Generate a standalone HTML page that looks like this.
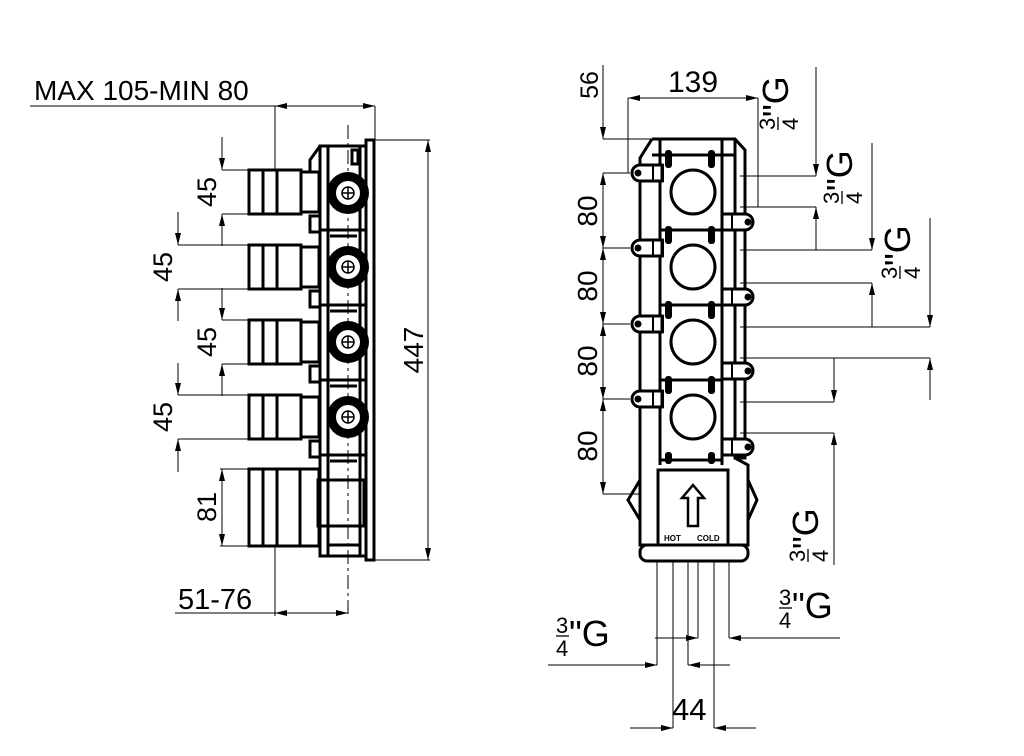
<!DOCTYPE html>
<html><head><meta charset="utf-8"><style>
html,body{margin:0;padding:0;background:#fff;}
svg{display:block;}
text{font-family:"Liberation Sans",sans-serif;fill:#000;}
</style></head><body>
<svg width="1024" height="756" viewBox="0 0 1024 756" xmlns="http://www.w3.org/2000/svg">
<defs>
<marker id="a" viewBox="0 0 12 6" refX="12" refY="3" markerWidth="12" markerHeight="6" markerUnits="userSpaceOnUse" orient="auto-start-reverse"><path d="M0,0 L12,3 L0,6 z" fill="#000"/></marker>
<g id="lc">
 <circle r="21" fill="#000"/><circle r="12" fill="#fff"/><circle r="6" fill="none" stroke="#000" stroke-width="1.5"/><line x1="-6" y1="0" x2="6" y2="0" stroke="#000" stroke-width="1.5"/><line x1="0" y1="-6" x2="0" y2="6" stroke="#000" stroke-width="1.5"/>
</g>
<g id="pipe" fill="none" stroke="#000" stroke-width="3">
 <rect x="249" y="0" width="52" height="44"/><line x1="263" y1="0" x2="263" y2="44"/><line x1="277" y1="0" x2="277" y2="44"/>
 <rect x="301" y="2" width="18" height="40"/>
</g>
<g id="ltab"><path d="M640,-8 H662 V8 H640 A8,8 0 0 1 640,-8 z" fill="#fff" stroke="#000" stroke-width="3"/><circle cx="638" cy="0" r="3.5" fill="#000"/><rect x="653" y="-8" width="10" height="16" fill="none" stroke="#000" stroke-width="2"/></g>
<g id="rtab"><path d="M722,-8 H745 A8,8 0 0 1 745,8 H722 z" fill="#fff" stroke="#000" stroke-width="3"/><circle cx="748" cy="0" r="3.5" fill="#000"/><rect x="722" y="-8" width="10" height="16" fill="none" stroke="#000" stroke-width="2"/></g>
<g id="frac"><text x="0" y="-3" font-size="22">3</text><line x1="0" y1="0" x2="13" y2="0" stroke="#000" stroke-width="1.3"/><text x="0" y="20" font-size="22">4</text><text x="13" y="10" font-size="36">"G</text></g>
</defs>

<g stroke="#000" stroke-width="1" fill="none">
 <line x1="30" y1="106" x2="275" y2="106"/>
 <line x1="275" y1="106" x2="375" y2="106" marker-start="url(#a)" marker-end="url(#a)"/>
 <line x1="275" y1="106" x2="275" y2="170"/>
 <line x1="375" y1="106" x2="375" y2="140"/>
 <line x1="375" y1="140" x2="430" y2="140"/><line x1="375" y1="560" x2="430" y2="560"/>
 <line x1="428" y1="140" x2="428" y2="560" marker-start="url(#a)" marker-end="url(#a)"/>
 <line x1="222" y1="170" x2="249" y2="170"/><line x1="222" y1="214" x2="249" y2="214"/>
 <line x1="222" y1="137" x2="222" y2="170" marker-end="url(#a)"/><line x1="222" y1="246" x2="222" y2="214" marker-end="url(#a)"/>
 <line x1="178" y1="245" x2="249" y2="245"/><line x1="178" y1="289" x2="249" y2="289"/>
 <line x1="178" y1="212" x2="178" y2="245" marker-end="url(#a)"/><line x1="178" y1="321" x2="178" y2="289" marker-end="url(#a)"/>
 <line x1="222" y1="320" x2="249" y2="320"/><line x1="222" y1="364" x2="249" y2="364"/>
 <line x1="222" y1="288" x2="222" y2="320" marker-end="url(#a)"/><line x1="222" y1="396" x2="222" y2="364" marker-end="url(#a)"/>
 <line x1="178" y1="395" x2="249" y2="395"/><line x1="178" y1="439" x2="249" y2="439"/>
 <line x1="178" y1="363" x2="178" y2="395" marker-end="url(#a)"/><line x1="178" y1="472" x2="178" y2="439" marker-end="url(#a)"/>
 <line x1="220" y1="469" x2="249" y2="469"/><line x1="220" y1="546" x2="249" y2="546"/>
 <line x1="222" y1="469" x2="222" y2="546" marker-start="url(#a)" marker-end="url(#a)"/>
 <line x1="275" y1="546" x2="275" y2="616"/>
 <line x1="175" y1="613" x2="275" y2="613"/>
 <line x1="275" y1="613" x2="348" y2="613" marker-start="url(#a)" marker-end="url(#a)"/>
 <line x1="348" y1="125" x2="348" y2="616" stroke-dasharray="14,4,3,4"/>
</g>
<text x="34" y="100" font-size="28">MAX 105-MIN 80</text>
<text x="178" y="609" font-size="29">51-76</text>
<text transform="translate(216,192) rotate(-90)" font-size="27" text-anchor="middle">45</text>
<text transform="translate(172,267) rotate(-90)" font-size="27" text-anchor="middle">45</text>
<text transform="translate(216,342) rotate(-90)" font-size="27" text-anchor="middle">45</text>
<text transform="translate(172,417) rotate(-90)" font-size="27" text-anchor="middle">45</text>
<text transform="translate(216,507) rotate(-90)" font-size="27" text-anchor="middle">81</text>
<text transform="translate(423,350) rotate(-90)" font-size="28" text-anchor="middle">447</text>

<g fill="none" stroke="#000" stroke-width="3">
 <rect x="366" y="140" width="8" height="420"/>
 <path d="M320,146 H366 V556 H320 z"/>
 <line x1="328" y1="146" x2="328" y2="556"/>
 <line x1="360" y1="146" x2="360" y2="556"/>
 <path d="M320,146 L310,160 V172"/>
 <rect x="352" y="150" width="6" height="14"/>
 <line x1="320" y1="230" x2="366" y2="230"/><line x1="320" y1="305" x2="366" y2="305"/>
 <line x1="320" y1="380" x2="366" y2="380"/><line x1="320" y1="455" x2="366" y2="455"/>
 <line x1="330" y1="236" x2="357" y2="236"/><line x1="330" y1="311" x2="357" y2="311"/>
 <line x1="330" y1="386" x2="357" y2="386"/><line x1="330" y1="461" x2="357" y2="461"/>
 <rect x="310" y="216" width="10" height="16"/><rect x="310" y="291" width="10" height="16"/>
 <rect x="310" y="366" width="10" height="16"/><rect x="310" y="441" width="10" height="16"/>
 <rect x="318" y="480" width="46" height="46"/>
 <path d="M328,545 H360 V556"/>
</g>
<use href="#pipe" y="170"/><use href="#pipe" y="245"/><use href="#pipe" y="320"/><use href="#pipe" y="395"/>
<g fill="none" stroke="#000" stroke-width="3">
 <rect x="249" y="469" width="70" height="77"/>
 <line x1="263" y1="469" x2="263" y2="546"/><line x1="277" y1="469" x2="277" y2="546"/><line x1="300" y1="469" x2="300" y2="546"/>
</g>
<use href="#lc" x="348" y="193"/><use href="#lc" x="348" y="267"/><use href="#lc" x="348" y="342"/><use href="#lc" x="348" y="417"/>

<g stroke="#000" stroke-width="1" fill="none">
 <line x1="628" y1="98" x2="758" y2="98" marker-start="url(#a)" marker-end="url(#a)"/>
 <line x1="628" y1="98" x2="628" y2="173"/><line x1="758" y1="98" x2="758" y2="207"/>
 <line x1="603" y1="65" x2="603" y2="139" marker-end="url(#a)"/>
 <line x1="603" y1="139" x2="652" y2="139"/>
 <line x1="603" y1="173" x2="630" y2="173"/><line x1="603" y1="248" x2="630" y2="248"/>
 <line x1="603" y1="324" x2="630" y2="324"/><line x1="603" y1="399" x2="630" y2="399"/>
 <line x1="603" y1="494" x2="640" y2="494"/>
 <line x1="603" y1="173" x2="603" y2="248" marker-start="url(#a)" marker-end="url(#a)"/>
 <line x1="603" y1="248" x2="603" y2="324" marker-start="url(#a)" marker-end="url(#a)"/>
 <line x1="603" y1="324" x2="603" y2="399" marker-start="url(#a)" marker-end="url(#a)"/>
 <line x1="603" y1="399" x2="603" y2="494" marker-start="url(#a)" marker-end="url(#a)"/>
 <line x1="740" y1="176" x2="816" y2="176"/><line x1="816" y1="67" x2="816" y2="176" marker-end="url(#a)"/>
 <line x1="740" y1="207" x2="816" y2="207"/><line x1="816" y1="250" x2="816" y2="207" marker-end="url(#a)"/>
 <line x1="740" y1="250" x2="872" y2="250"/><line x1="872" y1="143" x2="872" y2="250" marker-end="url(#a)"/>
 <line x1="740" y1="283" x2="872" y2="283"/><line x1="872" y1="327" x2="872" y2="283" marker-end="url(#a)"/>
 <line x1="740" y1="327" x2="930" y2="327"/><line x1="930" y1="218" x2="930" y2="327" marker-end="url(#a)"/>
 <line x1="740" y1="358" x2="930" y2="358"/><line x1="930" y1="400" x2="930" y2="358" marker-end="url(#a)"/>
 <line x1="740" y1="402" x2="834" y2="402"/><line x1="834" y1="358" x2="834" y2="402" marker-end="url(#a)"/>
 <line x1="740" y1="433" x2="834" y2="433"/><line x1="834" y1="565" x2="834" y2="433" marker-end="url(#a)"/>
 <line x1="657" y1="560" x2="657" y2="665"/><line x1="673" y1="560" x2="673" y2="728"/>
 <line x1="688" y1="560" x2="688" y2="665"/><line x1="698" y1="560" x2="698" y2="638"/>
 <line x1="714" y1="560" x2="714" y2="728"/><line x1="729" y1="560" x2="729" y2="638"/>
 <line x1="655" y1="638" x2="698" y2="638" marker-end="url(#a)"/>
 <line x1="840" y1="638" x2="729" y2="638" marker-end="url(#a)"/>
 <line x1="548" y1="665" x2="657" y2="665" marker-end="url(#a)"/>
 <line x1="730" y1="665" x2="688" y2="665" marker-end="url(#a)"/>
 <line x1="630" y1="728" x2="673" y2="728" marker-end="url(#a)"/>
 <line x1="756" y1="728" x2="714" y2="728" marker-end="url(#a)"/>
</g>
<text x="693" y="92" font-size="30" text-anchor="middle">139</text>
<text x="672" y="720" font-size="31">44</text>
<text transform="translate(598,85) rotate(-90)" font-size="25" text-anchor="middle">56</text>
<text transform="translate(597,211) rotate(-90)" font-size="28" text-anchor="middle">80</text>
<text transform="translate(597,286) rotate(-90)" font-size="28" text-anchor="middle">80</text>
<text transform="translate(597,361) rotate(-90)" font-size="28" text-anchor="middle">80</text>
<text transform="translate(597,446) rotate(-90)" font-size="28" text-anchor="middle">80</text>
<use href="#frac" transform="translate(556,636)"/>
<use href="#frac" transform="translate(779,608)"/>
<use href="#frac" transform="translate(778,130) rotate(-90)"/>
<use href="#frac" transform="translate(842,204) rotate(-90)"/>
<use href="#frac" transform="translate(900,279) rotate(-90)"/>
<use href="#frac" transform="translate(808,562) rotate(-90)"/>

<g fill="none" stroke="#000" stroke-width="3">
 <path d="M652,139 H735 L745,150 V458 H735 V139"/>
 <path d="M652,139 L640,158 V465"/>
 <line x1="660" y1="139" x2="660" y2="465"/><line x1="722" y1="139" x2="722" y2="465"/>
 <line x1="652" y1="155" x2="735" y2="155"/>
 <line x1="660" y1="230" x2="722" y2="230"/><line x1="660" y1="305" x2="722" y2="305"/>
 <line x1="660" y1="380" x2="722" y2="380"/><line x1="660" y1="460" x2="722" y2="460"/>
 <path d="M640,465 V545 H748 V465 L735,458"/>
 <rect x="640" y="545" width="108" height="16" rx="7"/>
 <rect x="658" y="470" width="70" height="75"/>
 <path d="M640,480 L628,500 L640,520"/><path d="M748,480 L757,500 L748,520"/>
</g>
<g fill="#000">
 <rect x="665" y="150" width="7" height="18" rx="3"/><rect x="708" y="150" width="7" height="18" rx="3"/>
 <rect x="665" y="226" width="7" height="18" rx="3"/><rect x="708" y="226" width="7" height="18" rx="3"/>
 <rect x="665" y="301" width="7" height="18" rx="3"/><rect x="708" y="301" width="7" height="18" rx="3"/>
 <rect x="665" y="376" width="7" height="18" rx="3"/><rect x="708" y="376" width="7" height="18" rx="3"/>
 <rect x="665" y="452" width="7" height="12" rx="3"/><rect x="708" y="452" width="7" height="12" rx="3"/>
</g>
<g fill="none" stroke="#000" stroke-width="3">
 <circle cx="693" cy="192" r="22"/><circle cx="693" cy="267" r="22"/>
 <circle cx="693" cy="342" r="22"/><circle cx="693" cy="417" r="22"/>
 <path d="M693,485 L704,498 H698 V526 H688 V498 H682 z" stroke-width="2.5"/>
</g>
<use href="#ltab" y="173"/><use href="#ltab" y="248"/><use href="#ltab" y="324"/><use href="#ltab" y="399"/>
<use href="#rtab" y="222"/><use href="#rtab" y="297"/><use href="#rtab" y="371"/><use href="#rtab" y="447"/>
<text x="664" y="541" font-size="8" font-weight="bold">HOT</text>
<text x="697" y="541" font-size="8" font-weight="bold">COLD</text>
</svg>
</body></html>
